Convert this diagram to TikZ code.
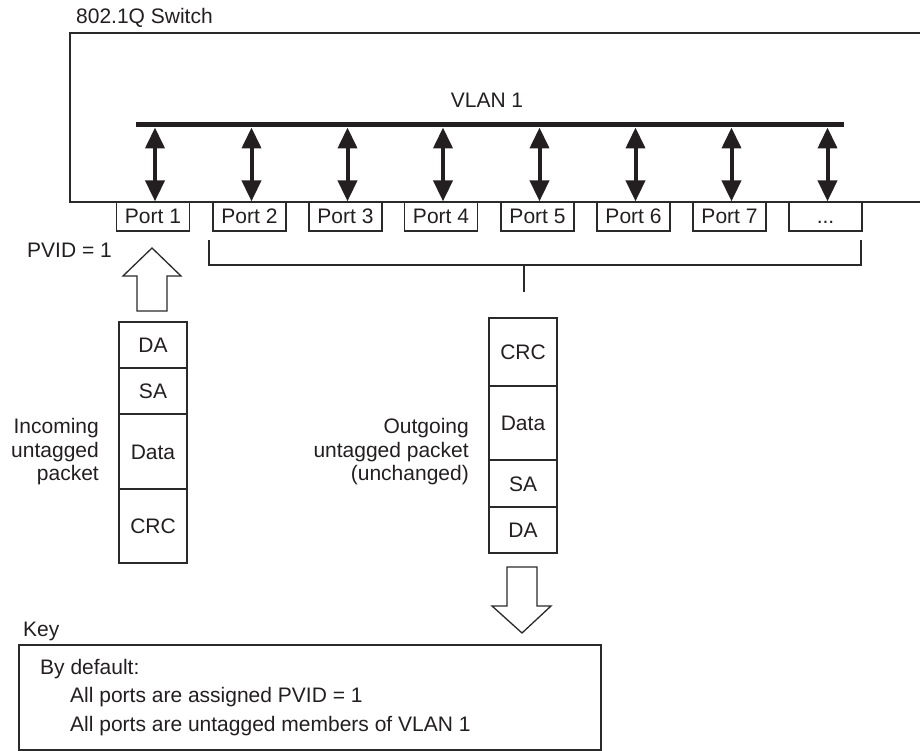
\documentclass[tikz,border=0pt]{standalone}
\usepackage{fontspec}
\setmainfont{Liberation Sans}
\usetikzlibrary{arrows.meta}
\definecolor{txt}{HTML}{231F20}
\definecolor{ln}{HTML}{2A2A2A}
\begin{document}
\begin{tikzpicture}[x=1pt,y=-1pt,
 every node/.style={font=\fontsize{21}{23.5}\selectfont, text=txt},
 lbl/.style={inner sep=0pt, text height=15pt, text depth=0pt},
 portbox/.style={draw=ln, line width=1.3pt, minimum width=73pt, minimum height=29pt, inner sep=0pt, text height=15pt, text depth=0pt},
 cell/.style={draw=ln, line width=1.3pt, minimum width=68pt, inner sep=0pt, text height=15pt, text depth=0pt},
 dbl/.style={draw=txt, line width=4pt, {Triangle[length=21pt,width=19pt]}-{Triangle[length=21pt,width=19pt]}},
 hollow/.style={draw=ln, line width=1.3pt, fill=white, line join=miter},
 lineS/.style={draw=ln, line width=1.3pt}
]
\useasboundingbox (0,0) rectangle (920,751);

% switch outline (open on the right)
\draw[lineS] (921,33) -- (70,33) -- (70,202) -- (921,202);
\node[lbl, anchor=west] (sw) at (76,16) {802.1Q Switch};

% VLAN bar
\coordinate (barL) at (136,125);
\coordinate (barR) at (844,125);
\coordinate (bar) at (0,127.5);
\draw[draw=txt, line width=5pt] (barL) -- (barR);
\node[lbl] (vlan) at (487,100) {VLAN 1};

% ports
\node[portbox] (p1) at (153,216.5) {Port 1};
\node[portbox] (p2) at (249.5,216.5) {Port 2};
\node[portbox] (p3) at (345.5,216.5) {Port 3};
\node[portbox] (p4) at (441,216.5) {Port 4};
\node[portbox] (p5) at (537.5,216.5) {Port 5};
\node[portbox] (p6) at (633.5,216.5) {Port 6};
\node[portbox] (p7) at (729.5,216.5) {Port 7};
\node[portbox] (p8) at (825.5,216.5) {...};

\foreach \p in {p1,p2,p3,p4,p5,p6,p7,p8}{
  \draw[dbl] ([xshift=2pt]\p.north) -- ([xshift=2pt]\p.north |- bar);
}

% bracket under ports 2..n
\coordinate (brL) at (209,240);
\coordinate (brR) at (861,240);
\coordinate (brM) at (524,265);
\coordinate (brS) at (524,292);
\draw[lineS] (brL) -- (brL |- brM) -- (brR |- brM) -- (brR);
\draw[lineS] (brM) -- (brS);

% PVID
\node[lbl, anchor=west] (pvid) at (27,250) {PVID = 1};

% up hollow arrow
\draw[hollow] (152,248) -- (181,276) -- (167,276) -- (167,311) -- (137,311) -- (137,276) -- (123,276) -- cycle;

% incoming packet
\node[cell, minimum height=46pt] (ida) at (153,345) {DA};
\node[cell, minimum height=46pt] (isa) at (153,391) {SA};
\node[cell, minimum height=75pt] (idata) at (153,451.5) {Data};
\node[cell, minimum height=74pt] (icrc) at (153,526) {CRC};
\node[anchor=east, align=right, inner sep=0pt] (inlbl) at (99,452) {Incoming\\untagged\\packet};

% outgoing packet
\node[cell, minimum height=68pt] (ocrc) at (523,352) {CRC};
\node[cell, minimum height=74pt] (odata) at (523,423) {Data};
\node[cell, minimum height=47pt] (osa) at (523,483.5) {SA};
\node[cell, minimum height=46pt] (oda) at (523,530) {DA};
\node[anchor=east, align=right, inner sep=0pt] (outlbl) at (469,452) {Outgoing\\untagged packet\\(unchanged)};

% down hollow arrow
\draw[hollow] (507,567) -- (537,567) -- (537,606) -- (551,606) -- (522,633) -- (492,606) -- (507,606) -- cycle;

% key
\node[lbl, anchor=west] (key) at (23,629) {Key};
\draw[lineS] (19,645) rectangle (601,750);
\node[lbl, anchor=west] (k1) at (40,666.5) {By default:};
\node[lbl, anchor=west] (k2) at (70,695) {All ports are assigned PVID = 1};
\node[lbl, anchor=west] (k3) at (70,723.5) {All ports are untagged members of VLAN 1};
\end{tikzpicture}
\end{document}
